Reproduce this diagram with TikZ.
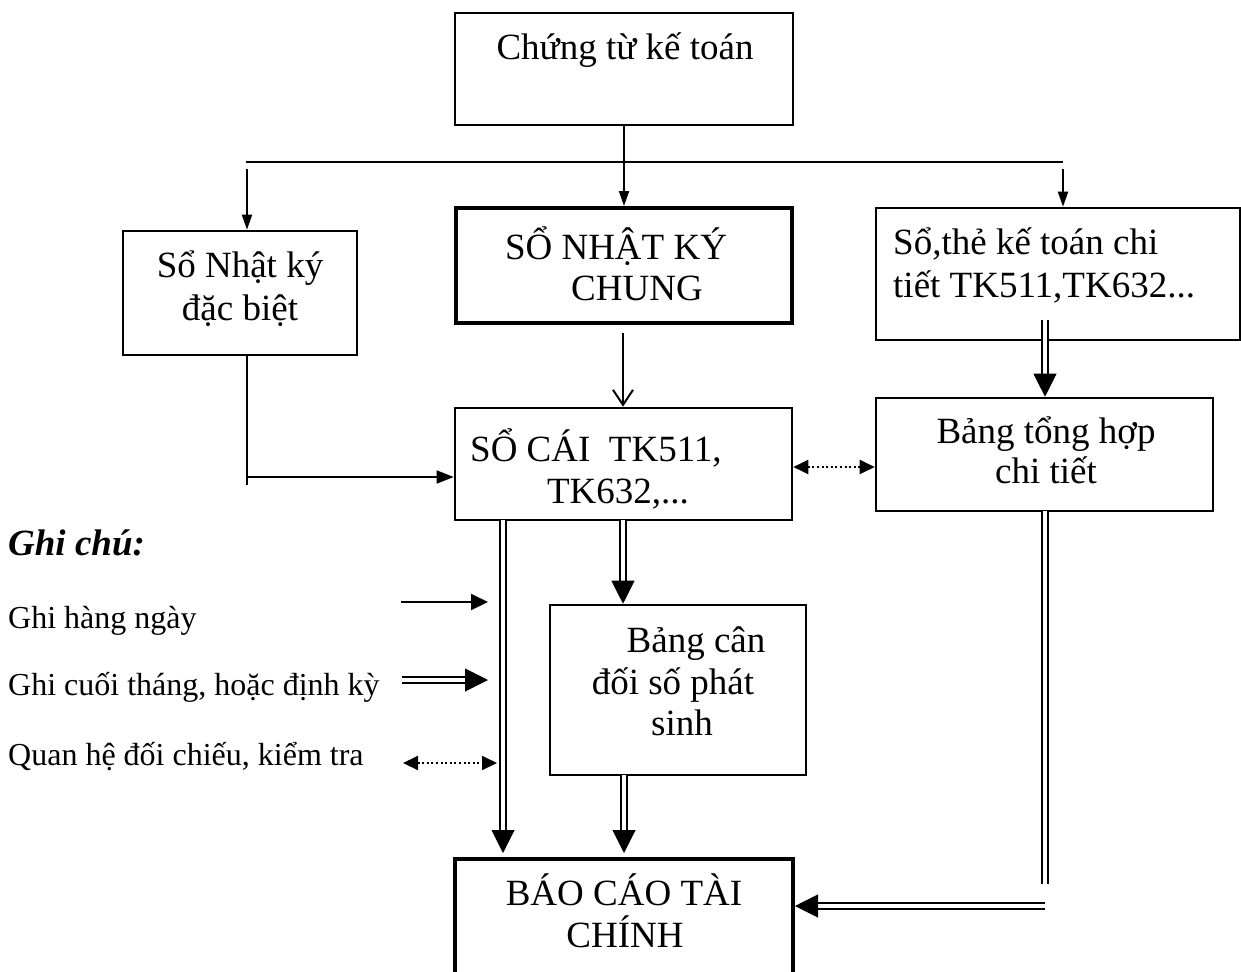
\documentclass[tikz,border=0pt]{standalone}
\usepackage{fontspec}
\setmainfont{Liberation Serif}
\usetikzlibrary{arrows.meta}
\newcommand\dblarrow[2]{%
  \draw[dbl, shorten >=21pt] #1 -- #2;
  \draw[dbltip] #1 -- #2;}
\begin{document}
\begin{tikzpicture}[x=1pt,y=-1pt,
  box/.style={draw, line width=2.6pt, rectangle, inner sep=0pt},
  tbox/.style={draw, line width=4pt, rectangle, inner sep=0pt},
  txt/.style={font=\fontsize{37}{42}\selectfont, inner sep=0pt, anchor=base},
  ltxt/.style={font=\fontsize{32}{38}\selectfont, inner sep=0pt, anchor=base west},
  ln/.style={line width=2pt},
  thinln/.style={line width=1.3pt},
  arr/.style={line width=2pt, -{Triangle[length=15pt,width=10pt]}},
  barb/.style={line width=2pt, -{Straight Barb[length=15pt,width=20pt,line width=2pt]}},
  dbl/.style={draw=black, double=white, line width=2pt, double distance=3.5pt},
  dbltip/.style={white, line width=1pt, -{Triangle[color=black,length=23pt,width=23pt]}},
  dots/.style={line width=2pt, dash pattern=on 2pt off 2.6pt, {Triangle[length=15pt,width=14pt]}-{Triangle[length=15pt,width=14pt]}}
]
\useasboundingbox (0,0) rectangle (1241,971);

% boxes
\node[box, minimum width=338pt, minimum height=112pt] (ct) at (624,69) {};
\node[box, minimum width=234pt, minimum height=124pt] (snd) at (240,293) {};
\node[tbox, minimum width=336pt, minimum height=115pt] (snkc) at (624,265.5) {};
\node[box, minimum width=364pt, minimum height=132pt] (sct) at (1058,274) {};
\node[box, minimum width=337pt, minimum height=112pt] (scai) at (623.5,464) {};
\node[box, minimum width=337pt, minimum height=113pt] (bth) at (1044.5,454.5) {};
\node[box, minimum width=256pt, minimum height=170pt] (bcd) at (678,690) {};
\node[tbox, minimum width=338pt, minimum height=150pt] (bctc) at (624,934) {};

% texts
\node[txt] (t1) at (625,60) {Chứng từ kế toán};
\node[txt] (t2a) at (240,277) {Sổ Nhật ký};
\node[txt] (t2b) at (240,320) {đặc biệt};
\node[txt] (t3a) at (616,259) {SỔ NHẬT KÝ};
\node[txt] (t3b) at (637,300) {CHUNG};
\node[txt, anchor=base west] (t4a) at (893,254) {Sổ,thẻ kế toán chi};
\node[txt, anchor=base west] (t4b) at (893,297) {tiết TK511,TK632...};
\node[txt, anchor=base west] (t5a) at (470,461) {SỔ CÁI\ \ TK511,};
\node[txt] (t5b) at (618,503) {TK632,...};
\node[txt] (t6a) at (1046,443) {Bảng tổng hợp};
\node[txt] (t6b) at (1046,483) {chi tiết};
\node[txt] (t7a) at (696,652) {Bảng cân};
\node[txt] (t7b) at (673,694) {đối số phát};
\node[txt] (t7c) at (682,735) {sinh};
\node[txt] (t8a) at (624,905) {BÁO CÁO TÀI};
\node[txt] (t8b) at (625,947) {CHÍNH};

% legend texts
\node[inner sep=0pt, anchor=base west, font=\fontsize{37}{42}\selectfont\bfseries\itshape] (gc) at (8,555) {Ghi chú:};
\node[ltxt] (l1) at (8,628) {Ghi hàng ngày};
\node[ltxt] (l2) at (8,695) {Ghi cuối tháng, hoặc định kỳ};
\node[ltxt] (l3) at (8,765) {Quan hệ đối chiếu, kiểm tra};

% top distribution
\coordinate (hl) at (246,162);
\coordinate (hr) at (1063,162);
\draw[ln] (hl) -- (hr);
\draw[arr] (ct.south) -- (snkc.north);
\coordinate (al) at (247,169);
\draw[arr] (al) -- (snd.north -| al);
\coordinate (ar) at (1063,169);
\draw[arr] (ar) -- (sct.north -| ar);

% snkc -> scai
\coordinate (b1) at (623,333);
\draw[barb] (b1) -- (b1 |- scai.north);

% snd -> scai
\coordinate (v1) at (247,485);
\draw[thinln] (snd.south -| v1) -- (v1);
\coordinate (h1) at (247,477);
\draw[line width=1.5pt, -{Triangle[length=17pt,width=13pt]}] (h1) -- (h1 -| scai.west);

% scai <-> bth
\coordinate (d1) at (792,467);
\draw[dots] (scai.east |- d1) -- (bth.west |- d1);

% sct => bth
\coordinate (s1) at (1045,320);
\dblarrow{(s1)}{(s1 |- bth.north)}

% scai => bcd
\coordinate (s2) at (623,520);
\dblarrow{(s2)}{(s2 |- bcd.north)}

% scai => bctc
\coordinate (s3) at (503,520);
\coordinate (e3) at (503,853);
\dblarrow{(s3)}{(e3)}

% bcd => bctc
\coordinate (s4) at (624,775);
\coordinate (e4) at (624,853);
\dblarrow{(s4)}{(e4)}

% bth => bctc
\coordinate (s5) at (1045,511);
\coordinate (e5) at (1045,884);
\draw[dbl] (s5) -- (e5);
\coordinate (s6) at (1045,906);
\dblarrow{(s6)}{(s6 -| bctc.east)}

% legend arrows
\coordinate (la1) at (401,602);
\coordinate (lb1) at (488,602);
\draw[line width=2pt, -{Triangle[length=17pt,width=16pt]}] (la1) -- (lb1);
\coordinate (la2) at (402,680);
\coordinate (lb2) at (488,680);
\dblarrow{(la2)}{(lb2)}
\coordinate (la3) at (403,763);
\coordinate (lb3) at (497,763);
\draw[dots] (la3) -- (lb3);
\end{tikzpicture}
\end{document}
